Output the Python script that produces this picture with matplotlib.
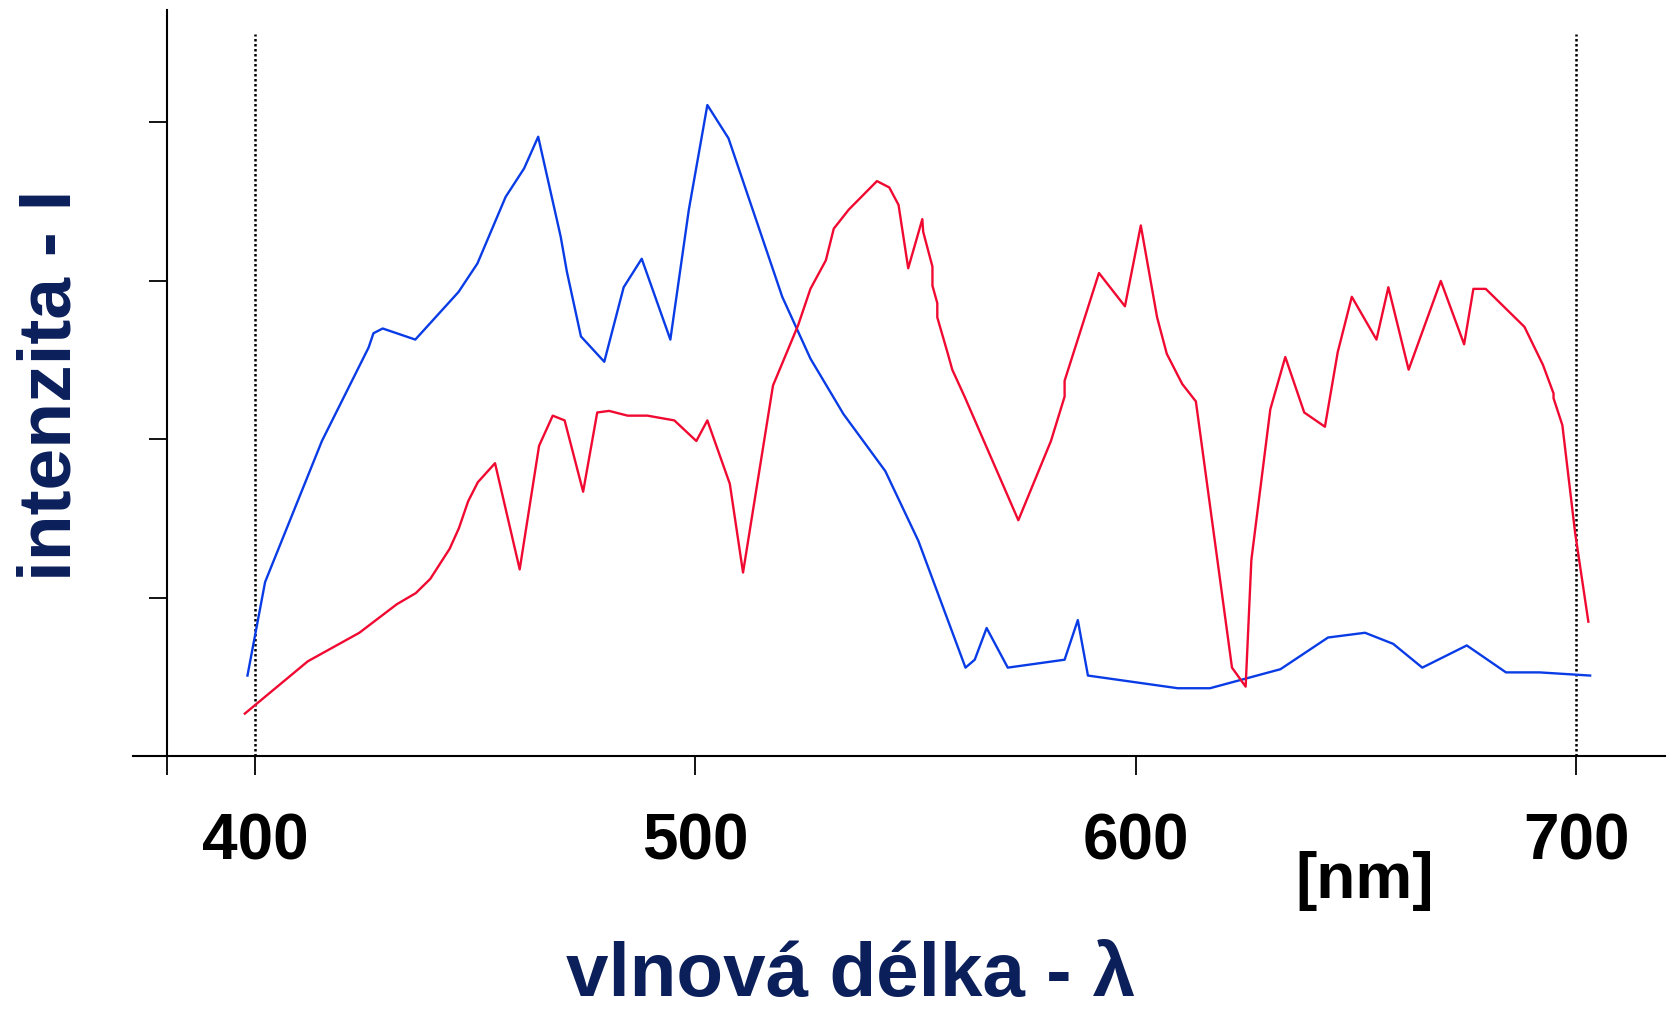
import matplotlib.pyplot as plt

# Spektra - modra a cervena krivka
modra_x = [398.3, 402.3, 415.2, 425.8, 426.9, 429.0, 436.4, 446.2, 450.5, 456.9,
           461.1, 464.3, 469.4, 470.8, 474.0, 479.3, 483.7, 487.8, 494.3, 498.5,
           502.7, 507.5, 519.7, 526.1, 533.6, 543.1, 550.6, 561.3, 563.4, 566.1,
           570.9, 583.8, 586.8, 589.1, 609.5, 616.8, 632.8, 643.6, 652.0, 658.4,
           665.0, 675.1, 684.0, 691.6, 703.1]
modra_y = [0.51, 1.10, 1.99, 2.58, 2.67, 2.70, 2.63, 2.93, 3.11, 3.53,
           3.71, 3.91, 3.28, 3.06, 2.65, 2.49, 2.96, 3.14, 2.63, 3.45,
           4.11, 3.90, 2.90, 2.51, 2.16, 1.80, 1.36, 0.56, 0.61, 0.81,
           0.56, 0.61, 0.86, 0.51, 0.43, 0.43, 0.55, 0.75, 0.78, 0.71,
           0.56, 0.70, 0.53, 0.53, 0.51]

cervena_x = [397.7, 412.0, 423.7, 432.2, 436.5, 439.8, 444.2, 446.3, 448.4, 450.6,
             454.5, 460.1, 464.5, 467.6, 470.3, 474.5, 477.7, 480.4, 484.6, 489.1,
             495.2, 500.2, 502.7, 507.8, 510.8, 517.6, 523.3, 526.1, 529.6, 531.4,
             534.8, 541.2, 544.0, 546.1, 548.3, 551.5, 551.7, 553.8, 553.8, 554.9,
             554.9, 557.3, 558.3, 561.1, 573.3, 580.7, 583.8, 583.8, 591.6, 597.5,
             601.1, 604.8, 607.0, 610.5, 613.6, 621.8, 624.9, 626.2, 630.5, 633.9,
             638.2, 642.9, 645.8, 649.0, 654.6, 657.3, 661.9, 669.2, 674.5, 676.6,
             679.4, 688.2, 692.4, 694.8, 694.8, 696.8, 699.7, 702.7]
cervena_y = [0.27, 0.60, 0.78, 0.96, 1.03, 1.12, 1.31, 1.44, 1.61, 1.73,
             1.85, 1.18, 1.96, 2.15, 2.12, 1.67, 2.17, 2.18, 2.15, 2.15,
             2.12, 1.99, 2.12, 1.72, 1.16, 2.34, 2.72, 2.95, 3.13, 3.33,
             3.45, 3.63, 3.59, 3.48, 3.08, 3.39, 3.31, 3.09, 2.97, 2.86,
             2.77, 2.54, 2.44, 2.27, 1.49, 1.99, 2.27, 2.37, 3.05, 2.84,
             3.35, 2.77, 2.54, 2.35, 2.24, 0.56, 0.44, 1.24, 2.19, 2.52,
             2.17, 2.08, 2.55, 2.90, 2.63, 2.96, 2.44, 3.00, 2.60, 2.95,
             2.95, 2.71, 2.47, 2.29, 2.26, 2.09, 1.41, 0.85]

popisky_x = [380, 400, 500, 600, 700]
texty_x = ['', '400', '500', '600', '700']
ticky_y = [1, 2, 3, 4]

plt.rcParams['font.family'] = ['Liberation Sans', 'DejaVu Sans']
tmava = '#0b1f5b'

fig = plt.figure(figsize=(16.68, 10.12), dpi=100)
ax = fig.add_axes([0.0797, 0.2516, 0.9185, 0.7379])

# teckovane hranice viditelneho spektra
ax.vlines([400, 700], 0, 4.56, colors='black', linestyles=(0, (1, 1)), linewidth=1.8)

ax.plot(modra_x, modra_y, color='#0a3ce6', linewidth=1.7)
ax.plot(cervena_x, cervena_y, color='#f00a32', linewidth=1.7)

ax.set_xlim(372.3, 720.1)
ax.set_ylim(0, 4.712)

for s in ['top', 'right']:
    ax.spines[s].set_visible(False)
ax.spines['left'].set_position(('data', 380))
ax.spines['left'].set_linewidth(1.5)
ax.spines['bottom'].set_linewidth(1.5)

ax.set_xticks(popisky_x)
ax.set_xticklabels(texty_x, fontsize=46, fontweight='bold')
ax.tick_params(axis='x', direction='out', length=14, width=1.3, pad=26)
ax.set_yticks(ticky_y)
ax.set_yticklabels([])
ax.tick_params(axis='y', direction='out', length=13, width=1.3)

fig.text(1365 / 1668, 1 - 881 / 1012, '[nm]', fontsize=46, fontweight='bold',
         ha='center', va='center')
fig.text(851 / 1668, 1 - 996 / 1012, 'vlnová délka - λ', fontsize=55,
         fontweight='bold', color=tmava, ha='center', va='baseline')
fig.text(51 / 1668, 1 - 385 / 1012, 'intenzita - I', fontsize=54,
         fontweight='bold', color=tmava, ha='center', va='center', rotation=90)

plt.savefig('out.png', dpi=100)
